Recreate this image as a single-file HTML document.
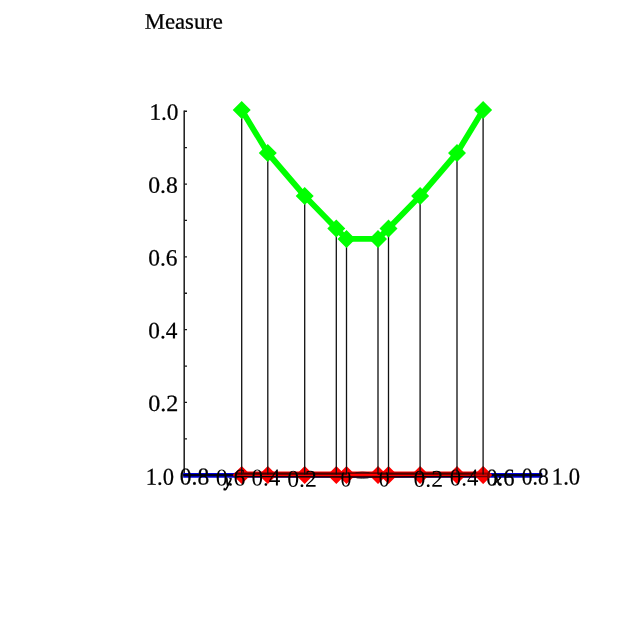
<!DOCTYPE html>
<html><head><meta charset="utf-8"><title>Measure</title>
<style>
html,body{margin:0;padding:0;background:#fff;width:640px;height:640px;overflow:hidden}
svg{display:block}
text{font-family:"Liberation Serif","Times New Roman",serif;font-size:23.4px;fill:#000;stroke:#000;stroke-width:0.25px}
</style></head><body>
<svg width="640" height="640" viewBox="0 0 640 640">
<defs><clipPath id="c0"><rect x="330" y="472.6" width="70" height="30"/></clipPath></defs>
<rect width="640" height="640" fill="#fff"/>
<text transform="translate(144.72 28.70) rotate(0.05) scale(1.019 1)" style="font-size:22.3px;">Measure</text>
<g stroke="#1a1a1a" stroke-width="1.5" fill="none"><path d="M184.2 110.5V474"/><path d="M184.2 111.25H187.0M184.2 147.65H187.0M184.2 184.05H187.0M184.2 220.45H187.0M184.2 256.85H187.0M184.2 293.25H187.0M184.2 329.65H187.0M184.2 366.05H187.0M184.2 402.45H187.0M184.2 438.85H187.0" stroke-width="1.3"/></g>
<text transform="translate(149.40 119.85) rotate(0.05) scale(0.996 1)">1.0</text>
<text transform="translate(148.25 192.65) rotate(0.05) scale(1.012 1)">0.8</text>
<text transform="translate(148.26 265.45) rotate(0.05) scale(1.003 1)">0.6</text>
<text transform="translate(148.27 338.25) rotate(0.05) scale(0.995 1)">0.4</text>
<text transform="translate(148.24 411.05) rotate(0.05) scale(1.029 1)">0.2</text>
<path d="M183.2 475.35H542.2" stroke="#0000e0" stroke-width="4.7" fill="none"/>
<path d="M183.2 475.2H542.2" stroke="#00001a" stroke-width="2.2" fill="none"/>
<path d="M241.7 474.3H483.1" stroke="#ff0000" stroke-width="5.8" fill="none"/>
<path d="M232.70 474.90L241.70 465.90L250.70 474.90L241.70 483.90ZM258.80 474.90L267.80 465.90L276.80 474.90L267.80 483.90ZM295.70 474.90L304.70 465.90L313.70 474.90L304.70 483.90ZM327.30 474.90L336.30 465.90L345.30 474.90L336.30 483.90ZM337.50 474.90L346.50 465.90L355.50 474.90L346.50 483.90ZM369.00 474.90L378.00 465.90L387.00 474.90L378.00 483.90ZM379.50 474.90L388.50 465.90L397.50 474.90L388.50 483.90ZM411.10 474.90L420.10 465.90L429.10 474.90L420.10 483.90ZM448.00 474.90L457.00 465.90L466.00 474.90L457.00 483.90ZM474.10 474.90L483.10 465.90L492.10 474.90L483.10 483.90Z" fill="#ff0000"/>
<path d="M234.7 473.6H346.5M378.0 473.6H490.1" stroke="#4a0000" stroke-width="2.1" fill="none"/>
<path d="M346.5 473.1H378.0" stroke="#4a0000" stroke-width="1.3" fill="none"/>
<path d="M234.7 476.5L362.3 477.0L490.1 476.5" stroke="#0a0006" stroke-width="1.4" fill="none"/>
<path d="M355.5 472.7Q362.4 471.5 369.5 472.7M356.5 478.0Q362.4 479.0 368.5 478.0" stroke="#1a1014" stroke-width="0.9" fill="none" opacity="0.75"/>
<text transform="translate(145.77 484.65) rotate(0.05) scale(0.933 1)" style="font-size:24.2px;">1.0</text>
<text transform="translate(179.86 484.40) rotate(0.05) scale(0.971 1)" style="font-size:24.2px;">0.8</text>
<text transform="translate(215.65 485.60) rotate(0.05) scale(0.981 1)" style="font-size:24.2px;stroke-width:0.01px;">0.6</text>
<text transform="translate(251.48 485.60) rotate(0.05) scale(0.955 1)" style="font-size:24.2px;stroke-width:0.01px;">0.4</text>
<text transform="translate(287.15 486.85) rotate(0.05) scale(0.985 1)" style="font-size:24.2px;stroke-width:0.01px;">0.2</text>
<g clip-path="url(#c0)"><text transform="translate(340.52 486.55) rotate(0.05) scale(0.905 1)" style="font-size:24.2px;stroke-width:0.01px;">0</text><text transform="translate(378.72 486.55) rotate(0.05) scale(0.905 1)" style="font-size:24.2px;stroke-width:0.01px;">0</text></g>
<text transform="translate(413.45 486.85) rotate(0.05) scale(0.985 1)" style="font-size:24.2px;stroke-width:0.01px;">0.2</text>
<text transform="translate(449.79 485.60) rotate(0.05) scale(0.945 1)" style="font-size:24.2px;stroke-width:0.01px;">0.4</text>
<text transform="translate(486.30 485.45) rotate(0.05) scale(0.932 1)" style="font-size:24.2px;">0.6</text>
<text transform="translate(521.84 484.55) rotate(0.05) scale(0.890 1)" style="font-size:24.2px;">0.8</text>
<text transform="translate(551.87 484.55) rotate(0.05) scale(0.933 1)" style="font-size:24.2px;">1.0</text>
<text transform="translate(224.94 486.20) rotate(0.05) scale(0.813 1)" font-style="italic" style="font-size:17.5px;stroke-width:1.0px;">y</text>
<text transform="translate(493.77 485.00) rotate(0.05) scale(0.965 1)" font-style="italic" style="font-size:17.5px;stroke-width:0.7px;">x</text>
<path d="M474.10 474.90L483.10 465.90L492.10 474.90L483.10 483.90Z" fill="#ff0000" opacity="0.45"/>
<path d="M241.7 117.0V474.5M267.8 160.0V474.5M304.7 203.0V474.5M336.3 235.4V474.5M346.5 245.9V474.5M378.0 245.9V474.5M388.5 235.4V474.5M420.1 203.0V474.5M457.0 160.0V474.5M483.1 117.0V474.5" stroke="#111" stroke-width="1.3" fill="none"/>
<polyline points="241.7,110.0 267.8,153.0 304.7,196.0 336.3,228.4 346.5,238.9 378.0,238.9 388.5,228.4 420.1,196.0 457.0,153.0 483.1,110.0" stroke="#00ff00" stroke-width="5.8" fill="none" stroke-linejoin="round"/>
<path d="M232.70 110.00L241.70 101.00L250.70 110.00L241.70 119.00ZM258.80 153.00L267.80 144.00L276.80 153.00L267.80 162.00ZM295.70 196.00L304.70 187.00L313.70 196.00L304.70 205.00ZM327.30 228.40L336.30 219.40L345.30 228.40L336.30 237.40ZM337.50 238.90L346.50 229.90L355.50 238.90L346.50 247.90ZM369.00 238.90L378.00 229.90L387.00 238.90L378.00 247.90ZM379.50 228.40L388.50 219.40L397.50 228.40L388.50 237.40ZM411.10 196.00L420.10 187.00L429.10 196.00L420.10 205.00ZM448.00 153.00L457.00 144.00L466.00 153.00L457.00 162.00ZM474.10 110.00L483.10 101.00L492.10 110.00L483.10 119.00Z" fill="#00ff00"/>
</svg>
</body></html>
